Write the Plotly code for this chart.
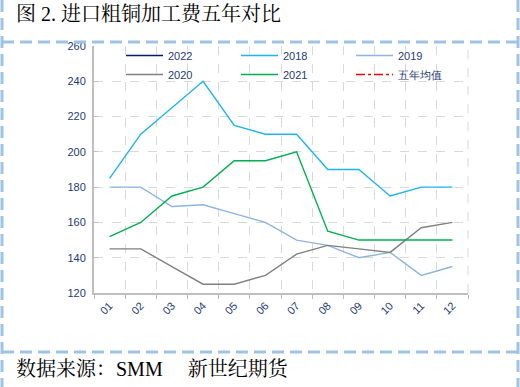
import plotly.graph_objects as go

months = ["01", "02", "03", "04", "05", "06", "07", "08", "09", "10", "11", "12"]
y2022 = [None] * 12
y2018 = [185, 210, 225, 240, 215, 210, 210, 190, 190, 175, 180, 180]
y2019 = [180, 180, 169, 170, 165, 160, 150, 147, 140, 143, 130, 135]
y2020 = [145, 145, 135, 125, 125, 130, 142, 147, 145, 143, 157, 160]
y2021 = [152, 160, 175, 180, 195, 195, 200, 155, 150, 150, 150, 150]
avg5 = [None] * 12

W, H = 520, 387
L, R, T, B = 94, 52, 46, 94
PW, PH = W - L - R, H - T - B

def px(x):
    return (x - L) / PW

def py(y):
    return (H - B - y) / PH

fig = go.Figure()
series = [
    ("2022", y2022, "#002060", "solid"),
    ("2018", y2018, "#1CB5F0", "solid"),
    ("2019", y2019, "#8DB4E2", "solid"),
    ("2020", y2020, "#808080", "solid"),
    ("2021", y2021, "#00B050", "solid"),
    ("五年均值", avg5, "#FF0000", "dashdot"),
]
for name, ys, col, dash in series:
    fig.add_trace(go.Scatter(x=months, y=ys, name=name, mode="lines",
                             line=dict(color=col, width=1.4, dash=dash)))

frame_col = "#9DC3E6"
fd = dict(color=frame_col, width=3, dash="12px,6px")
shapes = [
    dict(type="line", xref="paper", yref="paper", x0=px(2), x1=px(2), y0=py(0), y1=py(H), line=fd),
    dict(type="line", xref="paper", yref="paper", x0=px(518), x1=px(518), y0=py(0), y1=py(H), line=fd),
    dict(type="line", xref="paper", yref="paper", x0=px(2), x1=px(518), y0=py(42), y1=py(42), line=fd),
    dict(type="line", xref="paper", yref="paper", x0=px(2), x1=px(518), y0=py(352), y1=py(352), line=fd),
    dict(type="line", xref="paper", yref="paper", x0=1, x1=1, y0=0, y1=1,
         line=dict(color="#D9D9D9", width=1, dash="dash")),
]

cjk = "Liberation Serif, Noto Serif CJK SC, Noto Sans CJK SC, serif"
annotations = [
    dict(text="图 2. 进口粗铜加工费五年对比", xref="paper", yref="paper",
         x=px(14), y=py(14), xanchor="left", yanchor="middle", showarrow=False,
         font=dict(family=cjk, size=20, color="#000000")),
    dict(text="数据来源：SMM　 新世纪期货", xref="paper", yref="paper",
         x=px(14), y=py(369), xanchor="left", yanchor="middle", showarrow=False,
         font=dict(family=cjk, size=20, color="#000000")),
]

tickfont = dict(family="Liberation Sans, Arial", size=11, color="#1F3A78")

fig.update_layout(
    width=W, height=H,
    margin=dict(l=L, r=R, t=T, b=B),
    paper_bgcolor="white", plot_bgcolor="white",
    shapes=shapes, annotations=annotations,
    showlegend=True,
    legend=dict(orientation="h", x=px(121), y=py(41), xanchor="left", yanchor="top",
                entrywidth=63, entrywidthmode="pixels", bgcolor="rgba(0,0,0,0)",
                font=dict(family="Liberation Sans, Arial", size=11, color="#1F3A78"),
                itemwidth=37, tracegroupgap=0),
    xaxis=dict(type="category", range=[-0.5, 11.5], tickson="boundaries",
               showgrid=True, gridcolor="#D9D9D9", griddash="dash", gridwidth=1,
               showline=True, linecolor="#BFBFBF", linewidth=2,
               ticks="outside", ticklen=4, tickcolor="#BFBFBF",
               tickangle=-45, tickfont=tickfont, fixedrange=True),
    yaxis=dict(range=[120, 260], dtick=20, tick0=120,
               showgrid=True, gridcolor="#D9D9D9", griddash="dash", gridwidth=1,
               showline=True, linecolor="#BFBFBF", linewidth=2,
               ticks="inside", ticklen=4, tickcolor="#BFBFBF",
               tickfont=tickfont, ticklabelstandoff=4, zeroline=False,
               fixedrange=True),
)

fig.write_html("out.html", config={"displayModeBar": False},
               post_script="document.body.style.margin='0';")
